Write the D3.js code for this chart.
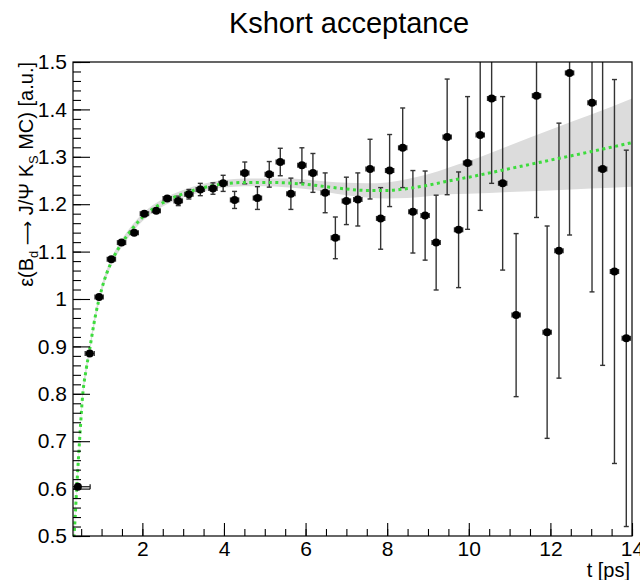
<!DOCTYPE html>
<html>
<head>
<meta charset="utf-8">
<script src="https://cdn.jsdelivr.net/npm/d3@7"></script>
<style>
  html, body { margin: 0; padding: 0; background: #fff; }
  svg { display: block; }
  text { font-family: "Liberation Sans", Arial, Helvetica, sans-serif; fill: #000; }
</style>
</head>
<body>
<svg id="chart" width="640" height="580"></svg>
<script>
// Decay-time bins: centre, half-width, efficiency and its uncertainty
const tCenter = [0.42, 0.71, 0.94, 1.24, 1.49, 1.80, 2.05, 2.34, 2.61, 2.88, 3.14, 3.42, 3.73, 3.98,
  4.26, 4.51, 4.82, 5.11, 5.38, 5.64, 5.91, 6.18, 6.48, 6.73, 7.00, 7.28, 7.58, 7.84, 8.06, 8.38,
  8.63, 8.93, 9.20, 9.47, 9.75, 9.97, 10.28, 10.56, 10.83, 11.16, 11.66, 11.92, 12.21, 12.47,
  13.02, 13.28, 13.57, 13.86];
const tHalfWidth = [0.30, 0.11, 0.10, 0.10, 0.10, 0.10, 0.10, 0.10, 0.10, 0.10, 0.10, 0.10, 0.10, 0.10,
  0.10, 0.10, 0.10, 0.10, 0.10, 0.10, 0.10, 0.10, 0.10, 0.10, 0.10, 0.10, 0.10, 0.10, 0.10, 0.10,
  0.10, 0.10, 0.10, 0.10, 0.10, 0.10, 0.10, 0.10, 0.10, 0.10, 0.10, 0.10, 0.10, 0.10,
  0.10, 0.10, 0.10, 0.10];
const effValue = [0.604, 0.885, 1.004, 1.084, 1.119, 1.140, 1.180, 1.186, 1.212, 1.207, 1.221, 1.231, 1.233, 1.244,
  1.209, 1.266, 1.213, 1.263, 1.289, 1.222, 1.282, 1.266, 1.224, 1.129, 1.207, 1.210, 1.274, 1.170, 1.271, 1.319,
  1.184, 1.176, 1.119, 1.342, 1.146, 1.287, 1.346, 1.423, 1.244, 0.966, 1.429, 0.930, 1.102, 1.477,
  1.414, 1.274, 1.058, 0.917];
const effError = [0.003, 0.004, 0.004, 0.005, 0.006, 0.008, 0.008, 0.009, 0.009, 0.010, 0.010, 0.013, 0.012, 0.017,
  0.018, 0.023, 0.024, 0.027, 0.029, 0.033, 0.037, 0.041, 0.042, 0.044, 0.050, 0.056, 0.063, 0.065, 0.076, 0.084,
  0.087, 0.094, 0.100, 0.122, 0.122, 0.140, 0.159, 0.179, 0.183, 0.172, 0.257, 0.224, 0.269, 0.342,
  0.399, 0.414, 0.405, 0.397];

// Acceptance fit: central curve and its uncertainty band
const fitT = [0.30, 0.34, 0.39, 0.46, 0.54, 0.62, 0.71, 0.85, 1.0, 1.25, 1.5, 1.75, 2.0, 2.5, 3.0, 3.5,
  4.0, 4.5, 5.0, 5.5, 6.0, 6.5, 7.0, 7.5, 8.0, 8.5, 9.0, 9.5, 10, 11, 12, 13, 14];
const fitValue = [0.47, 0.52, 0.60, 0.70, 0.80, 0.85, 0.895, 0.965, 1.02, 1.08, 1.118, 1.148, 1.172, 1.203, 1.222, 1.235,
  1.243, 1.246, 1.246, 1.245, 1.242, 1.237, 1.232, 1.229, 1.229, 1.233, 1.240, 1.249, 1.257, 1.275, 1.293, 1.311, 1.330];
const fitLow = [0.46, 0.51, 0.59, 0.69, 0.79, 0.84, 0.887, 0.957, 1.012, 1.072, 1.110, 1.140, 1.164, 1.195, 1.214, 1.227,
  1.235, 1.238, 1.238, 1.236, 1.232, 1.226, 1.219, 1.214, 1.212, 1.213, 1.217, 1.221, 1.222, 1.226, 1.229, 1.233, 1.237];
const fitHigh = [0.48, 0.53, 0.61, 0.71, 0.81, 0.86, 0.903, 0.973, 1.028, 1.088, 1.126, 1.156, 1.180, 1.211, 1.230, 1.243,
  1.251, 1.254, 1.254, 1.254, 1.252, 1.248, 1.245, 1.244, 1.246, 1.253, 1.263, 1.277, 1.291, 1.324, 1.357, 1.389, 1.423];

// Axis ticks and labels
const xMajorTicks = [2, 4, 6, 8, 10, 12, 14];
const xMinorTicks = d3.range(0.5, 14.01, 0.5);
const yMajorTicks = [0.5, 0.6, 0.7, 0.8, 0.9, 1.0, 1.1, 1.2, 1.3, 1.4, 1.5];
const yMinorTicks = d3.range(0.5, 1.501, 0.02);

const titleText = "Kshort acceptance";
const xTitle = "t [ps]";

const svg = d3.select("#chart");
const W = 640, H = 580;
const frame = { left: 73, right: 632, top: 62, bottom: 536 };

const x = d3.scaleLinear().domain([0.3, 14]).range([frame.left, frame.right]);
const y = d3.scaleLinear().domain([0.5, 1.5]).range([frame.bottom, frame.top]);

svg.append("rect").attr("width", W).attr("height", H).attr("fill", "#fff");

svg.append("defs").append("clipPath").attr("id", "plotArea")
  .append("rect")
  .attr("x", frame.left).attr("y", frame.top)
  .attr("width", frame.right - frame.left).attr("height", frame.bottom - frame.top);

const plot = svg.append("g").attr("clip-path", "url(#plotArea)");

// Fit uncertainty band
const fitRows = fitT.map((t, i) => ({ t, v: fitValue[i], lo: fitLow[i], hi: fitHigh[i] }));
plot.append("path")
  .datum(fitRows)
  .attr("fill", "#dcdcdc")
  .attr("d", d3.area().x(d => x(d.t)).y0(d => y(d.lo)).y1(d => y(d.hi)).curve(d3.curveMonotoneX));

// Data points with error bars
const pts = tCenter.map((t, i) => ({ t, dt: tHalfWidth[i], v: effValue[i], dv: effError[i] }));
const cap = 2.5;
const eb = plot.append("g").attr("stroke", "#333").attr("stroke-width", 1.4).attr("fill", "none");
pts.forEach(p => {
  const cx = x(p.t), cy = y(p.v);
  const y1 = y(p.v + p.dv), y2 = y(p.v - p.dv);
  const x1 = x(p.t - p.dt), x2 = x(p.t + p.dt);
  if (Math.abs(y2 - y1) > 9) {
    eb.append("line").attr("x1", cx).attr("x2", cx).attr("y1", y1).attr("y2", y2);
    eb.append("line").attr("x1", cx - cap).attr("x2", cx + cap).attr("y1", y1).attr("y2", y1);
    eb.append("line").attr("x1", cx - cap).attr("x2", cx + cap).attr("y1", y2).attr("y2", y2);
  }
  eb.append("line").attr("x1", x1).attr("x2", x2).attr("y1", cy).attr("y2", cy);
  eb.append("line").attr("x1", x1).attr("x2", x1).attr("y1", cy - cap).attr("y2", cy + cap);
  eb.append("line").attr("x1", x2).attr("x2", x2).attr("y1", cy - cap).attr("y2", cy + cap);
});

// Fit curve (dotted green)
plot.append("path")
  .datum(fitRows)
  .attr("fill", "none")
  .attr("stroke", "#3ddc3d")
  .attr("stroke-width", 3)
  .attr("stroke-dasharray", "3,3.5")
  .attr("d", d3.line().x(d => x(d.t)).y(d => y(d.v)).curve(d3.curveMonotoneX));

plot.append("g").selectAll("circle")
  .data(pts)
  .join("circle")
  .attr("cx", d => x(d.t))
  .attr("cy", d => y(d.v))
  .attr("r", 4)
  .attr("fill", "#000");

// Frame
svg.append("rect")
  .attr("x", frame.left).attr("y", frame.top)
  .attr("width", frame.right - frame.left).attr("height", frame.bottom - frame.top)
  .attr("fill", "none").attr("stroke", "#000").attr("stroke-width", 1.2);

// Axes with inward ticks
const yFmt = d => (Math.abs(d - 1) < 1e-9 ? "1" : d3.format(".1f")(d));
const yAxis = svg.append("g").attr("transform", `translate(${frame.left},0)`)
  .call(d3.axisLeft(y).tickValues(yMajorTicks).tickSize(-17).tickPadding(6).tickFormat(yFmt));
svg.append("g").attr("transform", `translate(${frame.left},0)`)
  .call(d3.axisLeft(y).tickValues(yMinorTicks).tickSize(-8).tickFormat(""));

const xAxis = svg.append("g").attr("transform", `translate(0,${frame.bottom})`)
  .call(d3.axisBottom(x).tickValues(xMajorTicks).tickSize(-13).tickPadding(5).tickFormat(d3.format("d")));
svg.append("g").attr("transform", `translate(0,${frame.bottom})`)
  .call(d3.axisBottom(x).tickValues(xMinorTicks).tickSize(-7).tickFormat(""));

svg.selectAll(".domain").remove();
svg.selectAll(".tick line").attr("stroke", "#000").attr("stroke-width", 1.1);
yAxis.selectAll("text").attr("font-size", 21).attr("font-family", "Liberation Sans, Arial, sans-serif").attr("fill", "#000");
xAxis.selectAll("text").attr("font-size", 21).attr("font-family", "Liberation Sans, Arial, sans-serif").attr("fill", "#000");

// Titles
svg.append("text")
  .attr("x", 349).attr("y", 33)
  .attr("text-anchor", "middle")
  .attr("font-size", 29)
  .text(titleText);

svg.append("text")
  .attr("x", frame.right - 2).attr("y", 577)
  .attr("text-anchor", "end")
  .attr("font-size", 20)
  .text(xTitle);

const yt = svg.append("text")
  .attr("transform", `translate(33,${frame.top}) rotate(-90)`)
  .attr("text-anchor", "end")
  .attr("font-size", 20);
yt.append("tspan").text("ε(B");
yt.append("tspan").attr("font-size", 13).attr("dy", 5).text("d");
yt.append("tspan").attr("dy", -5).text(" ");
yt.append("tspan").attr("font-family", "DejaVu Sans").attr("font-size", 17).text("\u27F6");
yt.append("tspan").text(" J/Ψ K");
yt.append("tspan").attr("font-size", 13).attr("dy", 5).text("S");
yt.append("tspan").attr("dy", -5).text(" MC) [a.u.]");
</script>
</body>
</html>
